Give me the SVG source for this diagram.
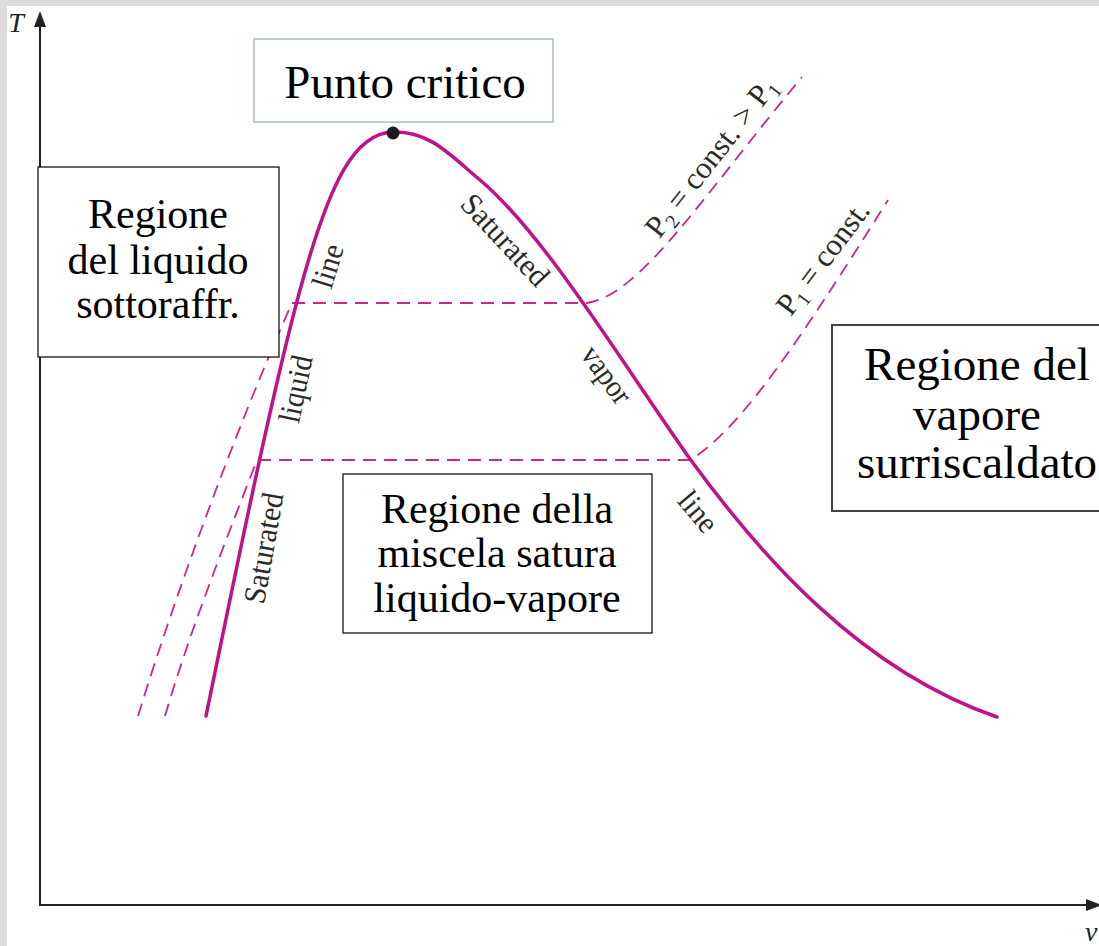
<svg xmlns="http://www.w3.org/2000/svg" width="1099" height="946" viewBox="0 0 1099 946">
<defs>
<style>
.sat{fill:none;stroke:#c0108a;stroke-width:3.5;stroke-linecap:round}
.iso{fill:none;stroke:#c8288e;stroke-width:1.8;stroke-dasharray:13 8}
.axis{fill:none;stroke:#222;stroke-width:2}
.lbl{font-family:"Liberation Serif","Times New Roman",serif;fill:#2a2a2a;font-size:31px;text-anchor:middle}
.box{fill:#fff;stroke:#000;stroke-width:1.2}
.bt{font-family:"Liberation Serif","Times New Roman",serif;fill:#000;text-anchor:middle}
</style>
</defs>
<rect x="0" y="0" width="1099" height="946" fill="#fff"/>
<rect x="0" y="0" width="1099" height="6" fill="#dcdcdc"/>
<rect x="0" y="0" width="7" height="946" fill="#dcdcdc"/>
<g id="axes">
<line class="axis" x1="40" y1="906" x2="40" y2="24"/>
<polygon points="40,11 34,27 46,27" fill="#222"/>
<line class="axis" x1="39" y1="905" x2="1088" y2="905"/>
<polygon points="1102,905 1086,899 1086,911" fill="#222"/>
<text x="16" y="32" font-family="Liberation Serif,serif" font-style="italic" font-size="28" fill="#222" text-anchor="middle">T</text>
<text x="1085" y="941" font-family="Liberation Serif,serif" font-style="italic" font-size="28" fill="#222">v</text>
</g>
<g id="connectors">
<path class="iso" d="M138,716 C180,580 240,420 292,303 L587,303 C640,295 700,200 802,77"/>
<path class="iso" d="M165,716 C190,630 230,530 257,460 L690,460 C740,430 800,340 888,200"/>
<path class="sat" d="M206,716 C230,600 270,400 300,290 C330,180 355,133 393,132 C430,131 450,155 480,180 C545,235 620,360 690,459 C760,555 860,670 997,717"/>
</g>
<g id="critical-point-dot"><circle cx="393" cy="133" r="6.5" fill="#1a1a1a"/></g>
<g id="curve-labels">
<text class="lbl" transform="translate(505,240) rotate(47)" y="10" textLength="114" lengthAdjust="spacingAndGlyphs">Saturated</text>
<text class="lbl" transform="translate(328,266) rotate(-73)" y="10" textLength="44" lengthAdjust="spacingAndGlyphs">line</text>
<text class="lbl" transform="translate(296,389) rotate(-78)" y="10" textLength="68" lengthAdjust="spacingAndGlyphs">liquid</text>
<text class="lbl" transform="translate(264,548) rotate(-80)" y="10" textLength="112" lengthAdjust="spacingAndGlyphs">Saturated</text>
<text class="lbl" transform="translate(605,376) rotate(54)" y="8" textLength="64" lengthAdjust="spacingAndGlyphs">vapor</text>
<text class="lbl" transform="translate(698,512) rotate(50)" y="10" textLength="44" lengthAdjust="spacingAndGlyphs">line</text>
<text class="lbl" transform="translate(711,157) rotate(-52)" y="10" font-size="30">P<tspan font-size="20" dy="6">2</tspan><tspan dy="-6"> = const. &gt; P</tspan><tspan font-size="20" dy="6">1</tspan></text>
<text class="lbl" transform="translate(823,258) rotate(-53)" y="10" font-size="30">P<tspan font-size="20" dy="6">1</tspan><tspan dy="-6"> = const.</tspan></text>
</g>
<g id="punto-critico">
<rect x="254" y="39" width="299" height="83" fill="#fff" stroke="#a8bdbd" stroke-width="1.5"/>
<text class="bt" x="405" y="98" font-size="47">Punto critico</text>
</g>
<g id="regione-liquido">
<rect class="box" x="38" y="167" width="241" height="190"/>
<text class="bt" font-size="42"><tspan x="158" y="228">Regione</tspan><tspan x="158" y="274">del liquido</tspan><tspan x="158" y="318">sottoraffr.</tspan></text>
</g>
<g id="regione-miscela">
<rect class="box" x="343" y="474" width="309" height="159"/>
<text class="bt" font-size="42"><tspan x="497" y="523">Regione della</tspan><tspan x="497" y="567">miscela satura</tspan><tspan x="497" y="612">liquido-vapore</tspan></text>
</g>
<g id="regione-vapore">
<rect x="832" y="325" width="290" height="186" fill="#fff" stroke="#444" stroke-width="2"/>
<text class="bt" font-size="47"><tspan x="977" y="380">Regione del</tspan><tspan x="977" y="430">vapore</tspan><tspan x="977" y="478">surriscaldato</tspan></text>
</g>
</svg>
